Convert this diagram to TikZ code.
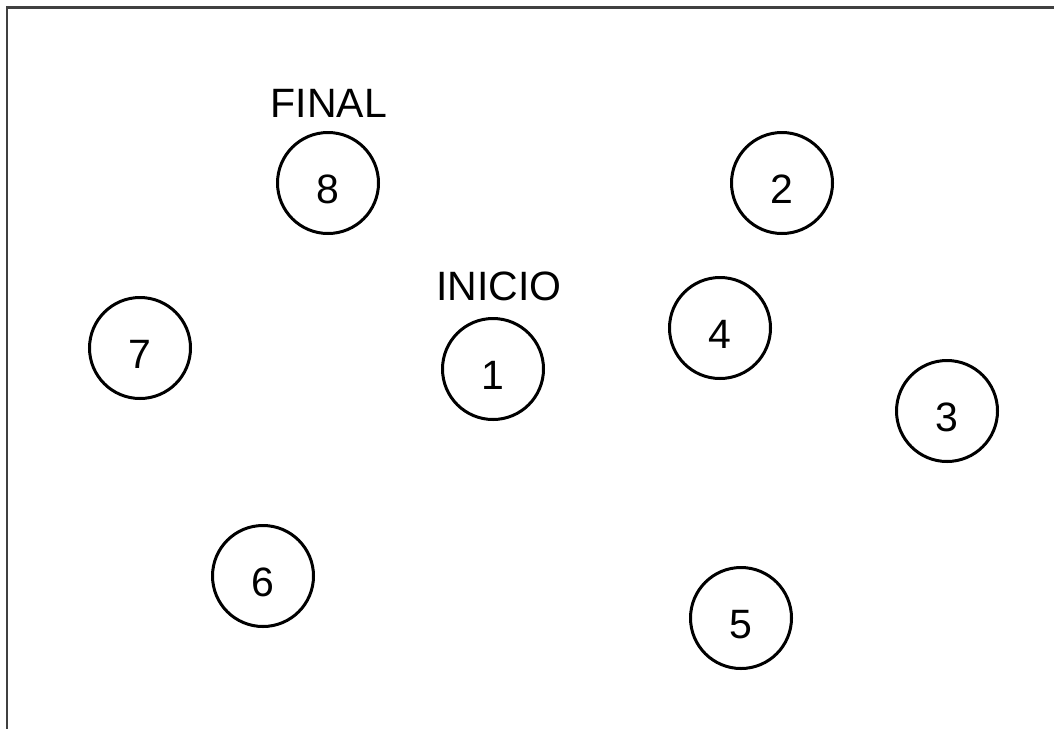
\documentclass[tikz,border=0pt]{standalone}
\usepackage{fontspec}
\setmainfont{Liberation Sans}
\begin{document}
\begin{tikzpicture}[x=1pt,y=-1pt,
  state/.style={circle,draw,line width=3pt,minimum size=101pt,inner sep=0pt,
    text height=40pt,text depth=0pt,
    font=\fontsize{41}{48}\selectfont},
  tag/.style={inner sep=0pt,font=\fontsize{41}{48}\selectfont},
  frameline/.style={line width=2.2pt,draw=black!75}]
\useasboundingbox (0,0) rectangle (1054,729);
% frame (top and left edges)
\coordinate (fTR) at (1054,7.5);
\coordinate (fTL) at (7,7.5);
\coordinate (fBL) at (7,729);
\draw[frameline] (fTR) -- (fTL) -- (fBL);
% states
\node[state] (s8) at (328,183) {8};
\node[state] (s2) at (782,183) {2};
\node[state] (s1) at (493,369) {1};
\node[state] (s4) at (720,328) {4};
\node[state] (s7) at (140,348) {7};
\node[state] (s3) at (947,411) {3};
\node[state] (s6) at (263,576) {6};
\node[state] (s5) at (741,618) {5};
% labels
\node[tag] (lfinal) at (329,103) {FINAL};
\node[tag] (linicio) at (499,286) {INICIO};
\end{tikzpicture}
\end{document}
